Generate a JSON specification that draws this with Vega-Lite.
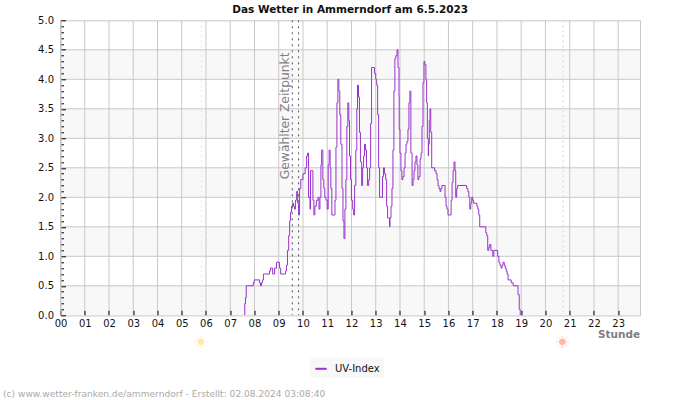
{
  "$schema": "https://vega.github.io/schema/vega-lite/v6.json",
  "width": 579.5,
  "height": 295,
  "autosize": "none",
  "padding": {"left": 60.5, "top": 20.3, "right": 60, "bottom": 85},
  "background": "white",
  "config": {
    "font": "DejaVu Sans",
    "view": {"stroke": "#c8c8c8", "strokeWidth": 1}
  },
  "title": {
    "text": "Das Wetter in Ammerndorf am 6.5.2023",
    "font": "DejaVu Sans",
    "fontSize": 10.5,
    "fontWeight": "bold",
    "color": "#111111",
    "anchor": "middle",
    "offset": 0
  },
  "datasets": {
    "uv": [
      {"h":7.58,"uv":0},{"h":7.6,"uv":0.2},{"h":7.63,"uv":0.3},{"h":7.66,"uv":0.5},{"h":7.95,"uv":0.55},{"h":7.99,"uv":0.6},{"h":8.21,"uv":0.55},{"h":8.25,"uv":0.5},{"h":8.29,"uv":0.55},{"h":8.33,"uv":0.6},{"h":8.37,"uv":0.7},{"h":8.62,"uv":0.75},{"h":8.66,"uv":0.8},{"h":8.75,"uv":0.7},{"h":8.83,"uv":0.8},{"h":8.91,"uv":0.9},{"h":9.03,"uv":0.8},{"h":9.08,"uv":0.7},{"h":9.28,"uv":0.75},{"h":9.32,"uv":0.85},{"h":9.36,"uv":1.1},{"h":9.41,"uv":1.35},{"h":9.45,"uv":1.6},{"h":9.49,"uv":1.75},{"h":9.53,"uv":1.85},{"h":9.57,"uv":1.9},{"h":9.61,"uv":1.85},{"h":9.65,"uv":1.8},{"h":9.69,"uv":1.95},{"h":9.74,"uv":2.1},{"h":9.78,"uv":1.9},{"h":9.82,"uv":1.7},{"h":9.86,"uv":2.15},{"h":9.91,"uv":2.3},{"h":10.0,"uv":2.4},{"h":10.09,"uv":2.5},{"h":10.15,"uv":2.7},{"h":10.19,"uv":2.75},{"h":10.23,"uv":2.0},{"h":10.29,"uv":1.8},{"h":10.31,"uv":2.45},{"h":10.41,"uv":1.95},{"h":10.45,"uv":1.7},{"h":10.49,"uv":1.85},{"h":10.55,"uv":1.95},{"h":10.62,"uv":2.0},{"h":10.66,"uv":1.8},{"h":10.7,"uv":2.0},{"h":10.74,"uv":2.55},{"h":10.77,"uv":2.8},{"h":10.82,"uv":2.3},{"h":10.86,"uv":2.15},{"h":10.9,"uv":2.0},{"h":10.95,"uv":1.95},{"h":11.0,"uv":1.8},{"h":11.04,"uv":2.55},{"h":11.08,"uv":2.8},{"h":11.12,"uv":2.5},{"h":11.15,"uv":2.15},{"h":11.19,"uv":1.7},{"h":11.32,"uv":1.95},{"h":11.36,"uv":2.85},{"h":11.4,"uv":3.6},{"h":11.44,"uv":4.0},{"h":11.48,"uv":3.8},{"h":11.52,"uv":3.4},{"h":11.56,"uv":2.9},{"h":11.61,"uv":2.15},{"h":11.65,"uv":1.6},{"h":11.69,"uv":1.3},{"h":11.73,"uv":1.8},{"h":11.77,"uv":2.3},{"h":11.81,"uv":3.2},{"h":11.85,"uv":3.6},{"h":11.89,"uv":3.3},{"h":11.92,"uv":2.7},{"h":11.96,"uv":2.3},{"h":12.0,"uv":1.95},{"h":12.05,"uv":1.8},{"h":12.09,"uv":1.7},{"h":12.13,"uv":2.2},{"h":12.18,"uv":2.8},{"h":12.22,"uv":3.5},{"h":12.25,"uv":3.9},{"h":12.29,"uv":3.7},{"h":12.33,"uv":3.1},{"h":12.37,"uv":2.6},{"h":12.42,"uv":2.2},{"h":12.46,"uv":2.5},{"h":12.5,"uv":2.7},{"h":12.54,"uv":2.9},{"h":12.58,"uv":2.8},{"h":12.62,"uv":2.5},{"h":12.66,"uv":2.2},{"h":12.71,"uv":2.3},{"h":12.75,"uv":2.5},{"h":12.79,"uv":3.25},{"h":12.83,"uv":4.2},{"h":12.95,"uv":4.1},{"h":13.0,"uv":4.0},{"h":13.04,"uv":3.9},{"h":13.08,"uv":3.4},{"h":13.12,"uv":2.5},{"h":13.16,"uv":2.0},{"h":13.28,"uv":2.35},{"h":13.32,"uv":2.5},{"h":13.36,"uv":2.4},{"h":13.41,"uv":2.3},{"h":13.45,"uv":1.85},{"h":13.49,"uv":1.65},{"h":13.57,"uv":1.5},{"h":13.59,"uv":1.65},{"h":13.63,"uv":1.85},{"h":13.67,"uv":2.15},{"h":13.71,"uv":2.8},{"h":13.75,"uv":3.8},{"h":13.79,"uv":4.35},{"h":13.83,"uv":4.4},{"h":13.88,"uv":4.5},{"h":13.92,"uv":4.2},{"h":13.96,"uv":3.7},{"h":13.97,"uv":3.15},{"h":14.0,"uv":2.75},{"h":14.04,"uv":2.45},{"h":14.08,"uv":2.3},{"h":14.12,"uv":2.35},{"h":14.17,"uv":2.5},{"h":14.21,"uv":2.75},{"h":14.25,"uv":2.9},{"h":14.29,"uv":2.95},{"h":14.33,"uv":3.15},{"h":14.37,"uv":3.6},{"h":14.41,"uv":3.8},{"h":14.45,"uv":2.75},{"h":14.5,"uv":2.2},{"h":14.54,"uv":2.3},{"h":14.58,"uv":2.45},{"h":14.62,"uv":2.6},{"h":14.66,"uv":2.7},{"h":14.7,"uv":2.55},{"h":14.74,"uv":2.3},{"h":14.78,"uv":2.35},{"h":14.83,"uv":2.65},{"h":14.87,"uv":2.75},{"h":14.91,"uv":3.2},{"h":14.95,"uv":3.95},{"h":14.99,"uv":4.3},{"h":15.03,"uv":4.25},{"h":15.07,"uv":4.0},{"h":15.1,"uv":3.6},{"h":15.13,"uv":3.0},{"h":15.17,"uv":2.7},{"h":15.18,"uv":2.9},{"h":15.21,"uv":3.3},{"h":15.24,"uv":3.5},{"h":15.27,"uv":3.1},{"h":15.31,"uv":2.5},{"h":15.43,"uv":2.45},{"h":15.49,"uv":2.4},{"h":15.53,"uv":2.3},{"h":15.57,"uv":2.2},{"h":15.61,"uv":2.15},{"h":15.65,"uv":2.1},{"h":15.69,"uv":2.15},{"h":15.73,"uv":2.2},{"h":15.86,"uv":2.0},{"h":15.9,"uv":1.85},{"h":15.94,"uv":1.8},{"h":15.98,"uv":1.7},{"h":16.11,"uv":1.95},{"h":16.15,"uv":2.25},{"h":16.19,"uv":2.45},{"h":16.23,"uv":2.6},{"h":16.27,"uv":2.45},{"h":16.3,"uv":2.0},{"h":16.34,"uv":2.15},{"h":16.38,"uv":2.2},{"h":16.75,"uv":2.15},{"h":16.8,"uv":2.1},{"h":16.84,"uv":2.0},{"h":16.88,"uv":1.8},{"h":16.92,"uv":1.9},{"h":16.96,"uv":2.0},{"h":17.0,"uv":1.95},{"h":17.04,"uv":1.9},{"h":17.17,"uv":1.85},{"h":17.21,"uv":1.8},{"h":17.25,"uv":1.7},{"h":17.29,"uv":1.5},{"h":17.54,"uv":1.4},{"h":17.58,"uv":1.35},{"h":17.62,"uv":1.1},{"h":17.66,"uv":1.15},{"h":17.7,"uv":1.2},{"h":17.75,"uv":1.1},{"h":17.83,"uv":1.0},{"h":17.87,"uv":1.1},{"h":18.03,"uv":1.0},{"h":18.08,"uv":0.9},{"h":18.12,"uv":0.85},{"h":18.17,"uv":0.8},{"h":18.21,"uv":0.85},{"h":18.25,"uv":0.9},{"h":18.3,"uv":0.85},{"h":18.34,"uv":0.8},{"h":18.38,"uv":0.75},{"h":18.42,"uv":0.7},{"h":18.46,"uv":0.6},{"h":18.59,"uv":0.55},{"h":18.67,"uv":0.5},{"h":18.87,"uv":0.35},{"h":18.92,"uv":0.1},{"h":18.96,"uv":0}
    ],
    "hours": [
      {"h":0},{"h":1},{"h":2},{"h":3},{"h":4},{"h":5},{"h":6},{"h":7},{"h":8},{"h":9},{"h":10},{"h":11},{"h":12},{"h":13},{"h":14},{"h":15},{"h":16},{"h":17},{"h":18},{"h":19},{"h":20},{"h":21},{"h":22},{"h":23}
    ],
    "levels": [
      {"uv":0.5},{"uv":1},{"uv":1.5},{"uv":2},{"uv":2.5},{"uv":3},{"uv":3.5},{"uv":4},{"uv":4.5}
    ],
    "bands": [
      {"uv":0,"to":0.5},{"uv":1,"to":1.5},{"uv":2,"to":2.5},{"uv":3,"to":3.5},{"uv":4,"to":4.5}
    ]
  },
  "encoding": {
    "x": {
      "field": "h",
      "type": "quantitative",
      "scale": {"domain": [0, 23.9], "nice": false, "zero": false},
      "axis": {
        "title": "Stunde",
        "titleFont": "DejaVu Sans",
        "titleFontSize": 10.5,
        "titleFontWeight": "bold",
        "titleColor": "#808080",
        "titleAlign": "right",
        "titleAnchor": "end",
        "titleX": 579,
        "titleY": 14,
        "grid": false,
        "zindex": 1,
        "values": [0,1,2,3,4,5,6,7,8,9,10,11,12,13,14,15,16,17,18,19,20,21,22,23],
        "labelExpr": "format(datum.value,'02d')",
        "labelFontSize": 10,
        "labelColor": "#111111",
        "labelPadding": 8,
        "labelFlush": false,
        "labelOverlap": false,
        "domainColor": "#dcdcdc",
        "tickColor": "#000000",
        "tickSize": -5
      }
    },
    "y": {
      "field": "uv",
      "type": "quantitative",
      "scale": {"domain": [0, 5], "nice": false},
      "axis": {
        "title": null,
        "grid": false,
        "zindex": 1,
        "values": [0,0.1,0.2,0.3,0.4,0.5,0.6,0.7,0.8,0.9,1,1.1,1.2,1.3,1.4,1.5,1.6,1.7,1.8,1.9,2,2.1,2.2,2.3,2.4,2.5,2.6,2.7,2.8,2.9,3,3.1,3.2,3.3,3.4,3.5,3.6,3.7,3.8,3.9,4,4.1,4.2,4.3,4.4,4.5,4.6,4.7,4.8,4.9,5],
        "labelExpr": "abs(datum.value*2-round(datum.value*2))<0.01 ? format(datum.value,'.1f') : ''",
        "labelFontSize": 10,
        "labelColor": "#111111",
        "labelPadding": 12,
        "labelOverlap": false,
        "labelBound": false,
        "labelFlush": false,
        "domainColor": "#c8c8c8",
        "tickColor": "#000000",
        "tickSize": {"condition": {"test": "abs(datum.value*2-round(datum.value*2))<0.01", "value": -5}, "value": -3}
      }
    }
  },
  "layer": [
    {
      "data": {"name": "bands"},
      "mark": {"type": "rect", "fill": "#f8f8f8"},
      "encoding": {"x": null, "y2": {"field": "to"}}
    },
    {
      "data": {"name": "hours"},
      "mark": {"type": "rule", "color": "#c8c8c8", "strokeWidth": 1},
      "encoding": {"y": null}
    },
    {
      "data": {"name": "levels"},
      "mark": {"type": "rule", "color": "#c8c8c8", "strokeWidth": 1},
      "encoding": {"x": null}
    },
    {
      "data": {"values": [{"h": 9.56}, {"h": 9.82}]},
      "mark": {"type": "rule", "color": "#555555", "strokeWidth": 1, "strokeDash": [2, 4]},
      "encoding": {"y": null}
    },
    {
      "data": {"values": [{"h": 5.81}]},
      "mark": {"type": "rule", "color": "#ffe9a0", "strokeWidth": 1, "strokeDash": [2, 3]},
      "encoding": {"y": null}
    },
    {
      "data": {"values": [{"h": 20.73}]},
      "mark": {"type": "rule", "color": "#ffc9a0", "strokeWidth": 1, "strokeDash": [2, 3]},
      "encoding": {"y": null}
    },
    {
      "data": {"name": "uv"},
      "mark": {"type": "line", "interpolate": "step-after", "strokeWidth": 1},
      "encoding": {
        "color": {
          "datum": "UV-Index",
          "scale": {"range": ["#9932cc"]},
          "legend": {
            "title": null,
            "orient": "none",
            "legendX": 249.5,
            "legendY": 337.5,
            "padding": 4,
            "fillColor": "#f8f8f8",
            "symbolType": "stroke",
            "symbolStrokeWidth": 2,
            "symbolSize": 130,
            "labelFontSize": 10,
            "labelColor": "#111111",
            "labelOffset": 7
          }
        }
      }
    },
    {
      "data": {"values": [{"h": 5.79, "uv": -0.45}]},
      "layer": [
        {"mark": {"type": "point", "filled": true, "fill": "#ffe9a8", "size": 44, "shape": "circle", "opacity": 1}},
        {"mark": {"type": "point", "filled": false, "stroke": "#ffe9a8", "strokeWidth": 0.8, "size": 170, "shape": "M-1,0L-.65,0M1,0L.65,0M0,-1L0,-.65M0,1L0,.65M-.7,-.7L-.48,-.48M.7,.7L.48,.48M-.7,.7L-.48,.48M.7,-.7L.48,-.48", "opacity": 1}}
      ]
    },
    {
      "data": {"values": [{"h": 20.7, "uv": -0.45}]},
      "layer": [
        {"mark": {"type": "point", "filled": true, "fill": "#ffb9a3", "size": 44, "shape": "circle", "opacity": 1}},
        {"mark": {"type": "point", "filled": false, "stroke": "#ffb9a3", "strokeWidth": 0.8, "size": 170, "shape": "M-1,0L-.65,0M1,0L.65,0M0,-1L0,-.65M0,1L0,.65M-.7,-.7L-.48,-.48M.7,.7L.48,.48M-.7,.7L-.48,.48M.7,-.7L.48,-.48", "opacity": 1}}
      ]
    },
    {
      "data": {"values": [{"h": 9.26, "uv": 3.38, "label": "Gewählter Zeitpunkt"}]},
      "mark": {"type": "text", "angle": 270, "align": "center", "baseline": "middle", "fontSize": 12.3, "color": "#808080"},
      "encoding": {"text": {"field": "label"}}
    },
    {
      "data": {"values": [{"h": -2.37, "uv": -1.33, "label": "(c) www.wetter-franken.de/ammerndorf - Erstellt: 02.08.2024 03:08:40"}]},
      "mark": {"type": "text", "align": "left", "baseline": "middle", "fontSize": 9.1, "color": "#aaaaaa"},
      "encoding": {"text": {"field": "label"}}
    }
  ]
}
